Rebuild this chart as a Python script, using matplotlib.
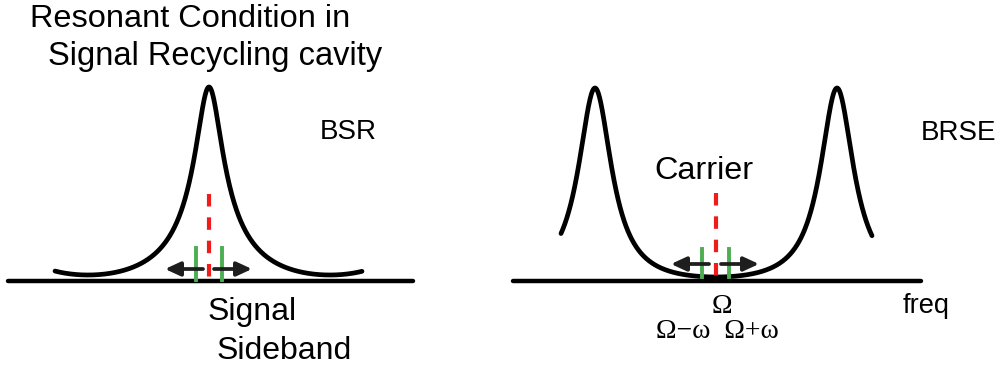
import numpy as np
import matplotlib
matplotlib.use("Agg")
import matplotlib.pyplot as plt

# ---- data (pixel-space schematic values) ----
baseline_y = 281
panels = ["BSR", "BRSE"]
baseline_x = [(8, 413), (513, 921)]
curve_x_range = [(55, 362), (561, 872)]
curve_peak_x = [209, 595]          # a resonance location of each curve
curve_period = [242, 242]
peak_height = [194, 193]
min_height = [6, 4]
sharpness_F = [30, 14]
shape_q = [0.5, 1.0]
carrier_x = [209, 716]
carrier_top = [194, 193]
carrier_bottom = [278, 277]
sideband_x = [(196, 222), (702, 729)]
sideband_top = [248, 249]
sideband_bottom = [280, 277]
arrow_y = [269, 264]
arrow_left = [(203, 165), (709, 671)]
arrow_right = [(214, 252), (721, 759)]

fig = plt.figure(figsize=(10.02, 3.69), dpi=100)
ax = fig.add_axes([0, 0, 1, 1])
ax.set_xlim(0, 1002)
ax.set_ylim(369, 0)
ax.axis("off")

for i in range(2):
    F, q = sharpness_F[i], shape_q[i]
    r_min = (1 + F) ** (-q)
    A = (peak_height[i] - min_height[i]) / (1 - r_min)
    c = peak_height[i] - A
    # baseline
    ax.plot(baseline_x[i], [baseline_y, baseline_y], color="black", lw=3.2,
            solid_capstyle="round", zorder=2)
    # cavity response
    x = np.linspace(curve_x_range[i][0], curve_x_range[i][1], 800)
    s = np.sin(np.pi * (x - curve_peak_x[i]) / curve_period[i])
    h = c + A * (1 + F * s ** 2) ** (-q)
    ax.plot(x, baseline_y - h, color="black", lw=3.4, solid_capstyle="round",
            solid_joinstyle="round", zorder=3)
    # carrier (red dashed)
    ax.plot([carrier_x[i], carrier_x[i]], [carrier_top[i], carrier_bottom[i]],
            color="#f01c1c", lw=3.0, dashes=(3.0, 2.6), zorder=4)
    # sidebands (green)
    for sx in sideband_x[i]:
        ax.plot([sx, sx], [sideband_top[i], sideband_bottom[i]],
                color="#4cae52", lw=2.8, zorder=4)
    # arrows
    for (x0, x1) in (arrow_left[i], arrow_right[i]):
        ax.annotate("", xy=(x1, arrow_y[i]), xytext=(x0, arrow_y[i]),
                    arrowprops=dict(arrowstyle="-|>,head_length=0.65,head_width=0.3",
                                    lw=2.7, color="#1e1e1e", shrinkA=0, shrinkB=0,
                                    mutation_scale=14),
                    zorder=5)

sans = "Liberation Sans"
serif = "Liberation Serif"
ax.text(30, 27, "Resonant Condition in", fontsize=23.4, family=sans,
        ha="left", va="baseline")
ax.text(48, 65, "Signal Recycling cavity", fontsize=23.5, family=sans,
        ha="left", va="baseline")
ax.text(320, 139, "BSR", fontsize=20, family=sans, ha="left", va="baseline")
ax.text(921, 140, "BRSE", fontsize=20, family=sans, ha="left", va="baseline")
ax.text(654, 179, "Carrier", fontsize=23.3, family=sans, ha="left", va="baseline")
ax.text(208, 320, "Signal", fontsize=23, family=sans, ha="left", va="baseline")
ax.text(217, 359, "Sideband", fontsize=23, family=sans, ha="left", va="baseline")
ax.text(903, 313, "freq", fontsize=19.6, family=sans, ha="left", va="baseline")
ax.text(722, 313, "Ω", fontsize=20, family=serif, ha="center", va="baseline")
ax.text(717, 338, "Ω−ω  Ω+ω", fontsize=20, family=serif, ha="center", va="baseline")

fig.savefig("out.png", dpi=100)
